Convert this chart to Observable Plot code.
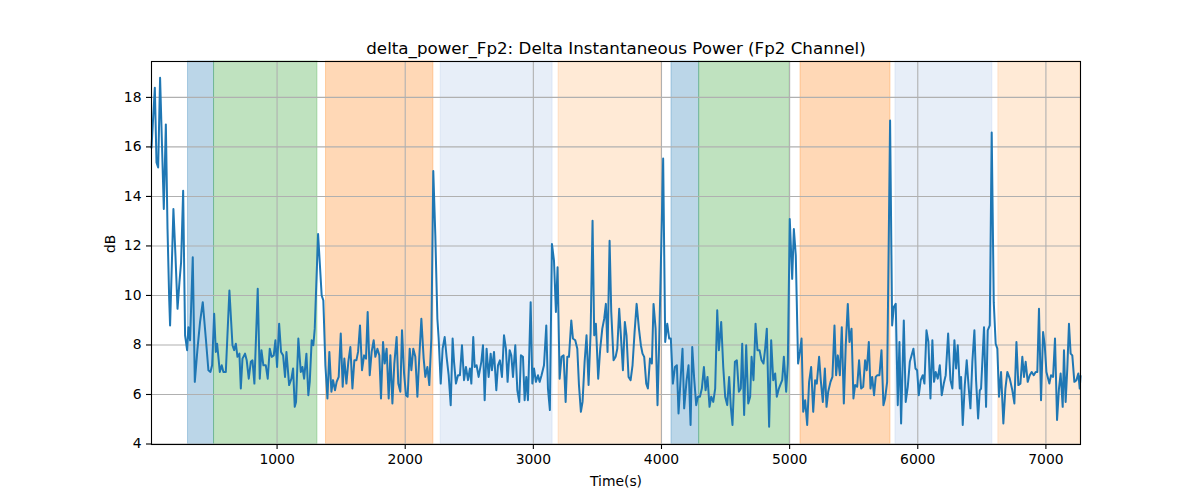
<!DOCTYPE html>
<html>
<head>
<meta charset="utf-8">
<script src="https://cdn.jsdelivr.net/npm/d3@7"></script>
<script src="https://cdn.jsdelivr.net/npm/@observablehq/plot@0.6"></script>
<style>
  html, body { margin: 0; padding: 0; background: white; }
</style>
</head>
<body>
<div id="chart"></div>
<script>
const titleText = "delta_power_Fp2: Delta Instantaneous Power (Fp2 Channel)";
const xLabel = "Time(s)";
const yLabel = "dB";
const xTicks = [1000, 2000, 3000, 4000, 5000, 6000, 7000];
const yTicks = [4, 6, 8, 10, 12, 14, 16, 18];

const spanStarts = [305, 508, 1382, 2277, 3197, 4078, 4294, 5085, 5826, 6629];
const spanEnds   = [508, 1315, 2220, 3150, 3998, 4294, 5001, 5787, 6582, 7270];
const spanColors = ["#1f77b4", "#2ca02c", "#ff7f0e", "#aec7e8", "#ffbb78",
                    "#1f77b4", "#2ca02c", "#ff7f0e", "#aec7e8", "#ffbb78"];

const times = [
  20,46,59,72,87,116,132,145,158,165,191,207,223,238,251,267,282,298,308,321,342,358,379,399,420,444,464,480,493,509,522,532,542,553,568,581,600,628,652,665,678,691,706,717,730,750,763,779,795,808,823,849,865,878,893,912,927,943,958,974,987,1000,1016,1031,1047,1062,1073,1094,1112,1125,1138,1148,1166,1185,1198,1211,1229,1244,
  1255,1270,1283,1294,1320,1333,1348,1361,1377,1393,1408,1424,1437,1452,1465,1481,1497,1512,1525,1541,1556,1572,1588,1603,1619,1632,1647,1663,1679,1694,1707,1723,1738,1754,1767,1783,1798,1811,1827,1840,1855,1871,1884,1900,1915,1933,1946,1962,1975,1991,2006,2019,2035,2048,2063,2079,2095,2110,2126,2144,2157,2173,2188,2204,2219,2235,2251,2261,2277,2292,2308,2323,2339,2355,2370,2381,2396,2412,2427,2443,2459,2474,2490,2505,
  2516,2531,2542,2557,2573,2594,2607,2620,2635,2651,2667,2677,2693,2711,2724,2739,2755,2771,2786,2799,2815,2828,2841,2859,2875,2890,2903,2919,2932,2945,2958,2979,2992,3005,3020,3036,3049,3064,3083,3101,3114,3129,3145,3161,3176,3189,3205,3220,3236,3252,3265,3278,3296,3309,3327,3343,3356,3371,3384,3400,3415,3431,3447,3462,3475,3488,3506,3522,3538,3553,3566,3579,3595,3608,3626,3642,3655,3670,3683,3699,3714,3727,3743,3759,
  3774,3790,3806,3824,3839,3852,3865,3881,3894,3910,3925,3938,3954,3969,3982,4013,4029,4045,4060,4073,4089,4105,4120,4133,4151,4164,4177,4196,4211,4227,4240,4255,4271,4284,4300,4315,4331,4344,4359,4375,4388,4404,4419,4435,4448,4466,4482,4497,4513,4528,4541,4554,4573,4588,4604,4619,4630,4645,4661,4677,4692,4703,4718,4734,4749,4765,4781,4796,4809,4822,4840,4856,4872,4887,4900,4916,4931,4942,4955,4973,4986,5001,
  5020,5033,5048,5066,5080,5093,5106,5121,5137,5152,5168,5184,5199,5212,5230,5243,5259,5275,5288,5301,5319,5334,5350,5363,5376,5392,5407,5423,5438,5454,5467,5483,5498,5511,5527,5542,5558,5574,5589,5602,5618,5631,5644,5659,5672,5685,5701,5717,5732,5745,5761,5784,5800,5813,5828,5844,5857,5870,5891,5906,5922,5938,5966,5982,5995,6008,6023,6039,6052,6068,6083,6099,6114,6127,6140,6156,6172,6187,6203,6218,6237,6255,
  6270,6286,6299,6312,6328,6338,6351,6367,6382,6398,6411,6426,6442,6455,6471,6484,6494,6517,6533,6546,6562,6577,6593,6608,6621,6634,6650,6668,6684,6699,6718,6738,6754,6770,6785,6801,6816,6829,6842,6858,6874,6889,6905,6920,6933,6946,6962,6978,6991,7004,7014,7027,7040,7056,7071,7087,7102,7115,7131,7141,7154,7167,7180,7193,7206,7222,7238,7253,7264,7270
];

const power = [
  15.97,18.39,15.37,15.17,18.79,13.49,16.91,12.68,9.87,8.79,13.49,11.61,9.46,10.54,11.34,14.23,8.39,7.79,8.72,8.19,11.54,6.51,7.85,8.93,9.73,8.26,6.98,6.91,7.18,9.26,7.72,8.05,7.52,6.91,7.18,6.91,6.91,10.20,7.99,7.79,8.05,7.52,7.65,6.24,7.45,7.65,7.38,6.64,7.32,7.38,6.44,10.27,6.64,7.79,7.18,7.18,6.64,7.85,7.52,7.58,8.19,7.11,8.86,7.72,7.58,6.71,7.72,6.38,6.64,7.05,5.50,5.70,8.26,6.91,7.11,6.64,7.65,5.97,
  6.51,8.19,7.99,8.66,12.48,11.34,10.00,9.80,7.18,5.84,7.72,6.11,6.58,6.17,6.51,6.71,8.46,6.31,7.45,6.44,7.32,7.92,6.24,7.38,7.38,7.72,8.79,6.98,7.58,7.45,9.33,6.78,7.72,8.19,7.52,7.85,7.58,5.84,8.12,7.25,7.85,5.84,7.58,5.64,7.25,8.32,6.44,6.11,8.59,6.85,5.97,5.91,7.85,6.98,7.85,7.52,5.91,7.52,9.06,7.45,6.71,7.11,6.38,8.26,15.03,12.42,9.06,8.26,6.44,7.85,8.32,7.52,6.78,5.57,8.26,7.32,6.44,6.78,6.78,7.99,6.58,7.11,6.58,7.05,
  6.44,8.32,7.11,7.18,6.71,7.32,7.99,5.77,7.85,6.71,7.65,6.98,7.72,6.17,7.18,7.38,6.71,8.39,7.85,6.51,7.79,7.58,6.71,7.99,6.17,5.70,7.58,7.52,5.77,6.71,5.77,9.73,6.44,7.05,6.51,6.78,6.51,6.78,7.18,8.79,6.24,5.37,12.08,11.41,9.33,11.14,6.64,7.52,7.58,5.70,7.52,7.52,8.99,8.26,8.19,7.85,6.38,5.30,5.70,7.32,8.39,6.38,8.52,13.02,8.39,8.86,6.64,7.85,8.66,9.06,9.66,7.72,12.21,9.33,7.38,7.52,7.85,9.46,8.39,6.98,8.93,8.39,6.71,6.58,
  7.18,8.52,9.66,8.66,7.99,7.65,7.52,6.44,6.24,7.45,7.25,9.66,8.66,5.57,8.12,15.53,8.12,8.86,8.26,8.26,6.44,7.11,7.18,5.23,6.78,7.85,5.44,6.58,7.18,4.77,7.92,6.64,5.57,5.91,5.91,6.24,7.11,6.17,6.71,5.50,5.91,5.70,6.24,9.40,7.79,8.93,7.11,5.91,5.57,6.71,5.50,4.77,7.32,7.38,6.11,6.24,8.05,5.17,7.99,5.64,5.91,7.52,6.58,8.86,7.79,7.79,7.38,7.25,7.85,8.66,4.70,8.19,6.58,6.85,5.91,6.24,6.44,6.58,7.52,6.11,7.25,13.09,
  10.67,12.68,11.61,7.25,7.72,8.26,5.30,5.77,4.77,6.51,7.11,5.30,6.58,6.44,7.52,6.58,5.70,7.05,5.50,6.11,6.51,6.71,8.79,6.78,7.58,6.78,8.72,5.64,7.99,9.66,8.12,8.66,5.84,6.38,6.31,7.38,6.24,6.31,7.38,6.98,8.12,6.24,6.71,5.97,6.71,6.78,6.78,7.79,5.57,5.84,6.51,17.07,8.79,9.53,9.66,5.57,8.12,4.83,8.99,5.70,6.31,7.32,7.85,7.05,6.98,5.97,6.58,6.78,6.44,8.59,8.12,5.84,8.19,6.51,6.91,6.64,7.18,5.97,6.44,6.78,8.46,6.58,
  6.24,8.19,7.05,7.99,6.24,6.71,4.77,6.38,7.38,6.24,5.44,7.32,8.59,6.58,5.03,6.17,6.24,8.72,5.50,8.59,8.79,16.58,9.73,8.05,7.85,5.91,6.91,4.83,6.24,6.91,6.64,6.17,5.64,8.12,6.38,6.44,7.52,6.71,7.32,6.51,6.78,6.91,6.78,6.91,6.91,9.46,5.77,8.52,7.99,6.91,6.71,6.44,6.78,6.71,8.26,4.97,6.24,6.85,5.50,7.79,5.70,7.05,8.86,7.65,7.58,6.51,6.58,6.85,6.24,6.75
];

const series = times.map((t, i) => ({t, v: power[i]}));
const spans = spanStarts.map((s, i) => ({start: s, end: spanEnds[i], color: spanColors[i]}));

const chart = Plot.plot({
  width: 1200,
  height: 500,
  marginLeft: 151,
  marginRight: 120,
  marginTop: 61,
  marginBottom: 56,
  style: {fontFamily: "DejaVu Sans", fontSize: "13.9px", background: "white", color: "black"},
  x: {domain: [20, 7270]},
  y: {domain: [3.98, 19.45]},
  color: {type: "identity"},
  marks: [
    Plot.rect(spans, {x1: "start", x2: "end", fill: "color", fillOpacity: 0.3, stroke: "color", strokeOpacity: 0.3, strokeWidth: 1}),
    Plot.gridX(xTicks, {stroke: "#b0b0b0", strokeOpacity: 1, strokeWidth: 1.1}),
    Plot.gridY(yTicks, {stroke: "#b0b0b0", strokeOpacity: 1, strokeWidth: 1.1}),
    Plot.line(series, {x: "t", y: "v", stroke: "#1f77b4", strokeWidth: 2}),
    Plot.frame({stroke: "black", strokeWidth: 1.1}),
    Plot.axisX(xTicks, {tickSize: 5, tickPadding: 5, fontSize: 13.9, label: null, tickFormat: d => String(d), stroke: "black", strokeWidth: 1.1}),
    Plot.axisY(yTicks, {tickSize: 5, tickPadding: 5, fontSize: 13.9, label: null, tickFormat: d => String(d), stroke: "black", strokeWidth: 1.1}),
    Plot.text([titleText], {text: d => d, frameAnchor: "top", dy: -8, lineAnchor: "bottom", fontSize: 16.7, fill: "black"}),
    Plot.text([xLabel], {text: d => d, frameAnchor: "bottom", dy: 37, lineAnchor: "middle", fontSize: 13.9, fill: "black"}),
    Plot.text([yLabel], {text: d => d, frameAnchor: "left", dx: -41, rotate: -90, fontSize: 13.9, fill: "black"})
  ]
});
document.getElementById("chart").appendChild(chart);
</script>
</body>
</html>
